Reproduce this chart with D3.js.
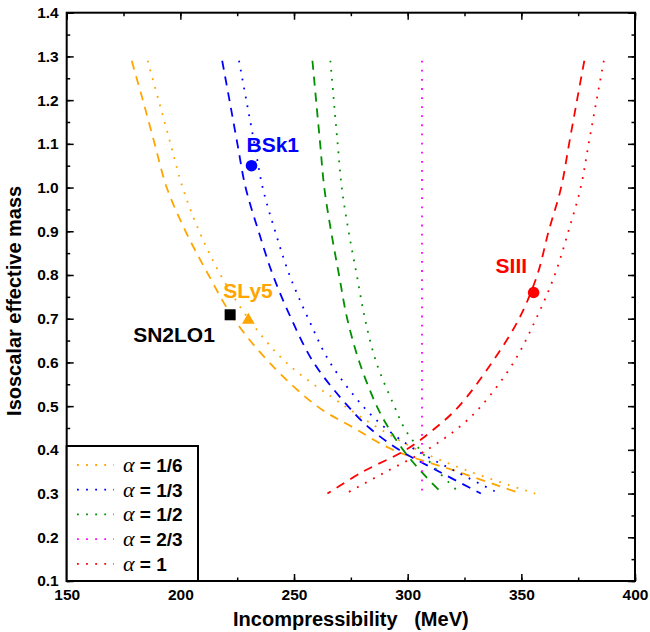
<!DOCTYPE html>
<html>
<head>
<meta charset="utf-8">
<script src="https://cdn.jsdelivr.net/npm/d3@7"></script>
<style>
  body { margin: 0; background: #fff; }
  text { font-family: "Liberation Sans", Arial, sans-serif; font-weight: bold; }
</style>
</head>
<body>
<svg id="chart" width="650" height="632"></svg>
<script>
const mGrid = [1.29, 1.2, 1.1, 1.0, 0.9, 0.8, 0.7, 0.6, 0.5, 0.45, 0.4, 0.35, 0.3];

// dotted curves (legend)
const kDot16 = [185.6, 190.4, 195.7, 201.0, 208.3, 217.7, 230.0, 246.5, 272.4, 287.1, 304.3, 327.5, 356.1];
const kDot13 = [225.8, 229.0, 232.6, 236.2, 241.7, 248.0, 256.3, 265.8, 280.3, 290.2, 303.5, 321.4, 340.3];
const kDot12 = [266.0, 267.5, 269.2, 271.0, 274.0, 277.6, 281.2, 286.2, 294.1, 298.5, 305.4, 313.5, 323.1];
const kDot23 = [306.3, 306.3, 306.3, 306.3, 306.3, 306.3, 306.3, 306.3, 306.3, 306.3, 306.3, 306.3, 306.3];
const kDot1  = [386.3, 383.1, 379.6, 376.1, 370.7, 364.7, 356.5, 346.6, 332.3, 322.2, 308.4, 290.5, 272.8];

// dashed curves
const kDash16 = [178.6, 183.5, 188.7, 194.0, 202.3, 212.4, 223.5, 239.1, 260.1, 276.4, 293.6, 322.0, 349.8];
const kDash13 = [218.4, 221.6, 225.1, 228.7, 234.4, 240.7, 248.8, 258.6, 273.7, 283.2, 296.2, 313.9, 332.2];
const kDash12 = [258.1, 259.7, 261.5, 263.3, 266.3, 269.8, 273.4, 278.8, 286.4, 291.6, 298.0, 306.0, 315.2];
const kDash1  = [377.7, 374.5, 371.0, 367.5, 362.0, 357.0, 349.0, 337.1, 322.6, 312.2, 299.2, 280.3, 264.7];

const alphaLabels = ["1/6", "1/3", "1/2", "2/3", "1"];

// Skyrme forces
const forceNames = ["BSk1", "SLy5", "SN2LO1", "SIII"];
const forceK = [231.3, 229.9, 221.9, 355.4];
const forceM = [1.05, 0.697, 0.709, 0.76];

const xTicks = [150, 200, 250, 300, 350, 400];
const yTicks = [0.1, 0.2, 0.3, 0.4, 0.5, 0.6, 0.7, 0.8, 0.9, 1.0, 1.1, 1.2, 1.3, 1.4];

const pLeft = 66.7, pRight = 635, pTop = 12.7, pBottom = 581;
const svg = d3.select("#chart");

const x = d3.scaleLinear().domain([150, 400]).range([pLeft, pRight]);
const y = d3.scaleLinear().domain([0.1, 1.4]).range([pBottom, pTop]);

const colors = ["#ffa500", "#0000ff", "#009000", "#ff00ff", "#ff0000"];

const line = d3.line()
  .x(d => x(d[0]))
  .y(d => y(d[1]))
  .curve(d3.curveCatmullRom);

const pairs = ks => ks.map((k, i) => [k, mGrid[i]]);

// dashed set
[kDash16, kDash13, kDash12, null, kDash1].forEach((ks, i) => {
  if (!ks) return;
  svg.append("path")
    .attr("d", line(pairs(ks)))
    .attr("fill", "none")
    .attr("stroke", colors[i])
    .attr("stroke-width", 1.8)
    .attr("stroke-dasharray", "9,7");
});

// dotted set
[kDot16, kDot13, kDot12, kDot23, kDot1].forEach((ks, i) => {
  svg.append("path")
    .attr("d", line(pairs(ks)))
    .attr("fill", "none")
    .attr("stroke", colors[i])
    .attr("stroke-width", 1.8)
    .attr("stroke-dasharray", "1.8,7.3");
});

// axes, ticks pointing inward
const xMinor = d3.range(150, 401, 25);
const yMinor = d3.range(0.1, 1.401, 0.05);

function ticksOn(axis, vals, size, fmt) {
  return axis.tickValues(vals).tickSizeInner(-size).tickSizeOuter(0).tickPadding(8).tickFormat(fmt);
}

svg.append("g").attr("transform", `translate(0,${pBottom})`)
  .call(ticksOn(d3.axisBottom(x), xMinor, 3.5, () => ""));
svg.append("g").attr("transform", `translate(0,${pBottom})`)
  .call(ticksOn(d3.axisBottom(x), xTicks, 7, d3.format("d")));
svg.append("g").attr("transform", `translate(0,${pTop})`)
  .call(ticksOn(d3.axisTop(x), xMinor, 3.5, () => ""));
svg.append("g").attr("transform", `translate(0,${pTop})`)
  .call(ticksOn(d3.axisTop(x), xTicks, 7, () => ""));
svg.append("g").attr("transform", `translate(${pLeft},0)`)
  .call(ticksOn(d3.axisLeft(y), yMinor, 3.5, () => ""));
svg.append("g").attr("transform", `translate(${pLeft},0)`)
  .call(ticksOn(d3.axisLeft(y), yTicks, 7, d3.format(".1f")));
svg.append("g").attr("transform", `translate(${pRight},0)`)
  .call(ticksOn(d3.axisRight(y), yMinor, 3.5, () => ""));
svg.append("g").attr("transform", `translate(${pRight},0)`)
  .call(ticksOn(d3.axisRight(y), yTicks, 7, () => ""));

svg.selectAll(".domain").remove();
svg.selectAll(".tick line").attr("stroke", "#000").attr("stroke-width", 1.5);
svg.selectAll(".tick text")
  .attr("font-family", "Liberation Sans, Arial, sans-serif")
  .attr("font-weight", "bold")
  .attr("font-size", 15.5)
  .attr("fill", "#000");

svg.append("rect")
  .attr("x", pLeft).attr("y", pTop)
  .attr("width", pRight - pLeft).attr("height", pBottom - pTop)
  .attr("fill", "none").attr("stroke", "#000").attr("stroke-width", 2);

// axis titles
svg.append("text")
  .attr("x", (pLeft + pRight) / 2).attr("y", 626)
  .attr("text-anchor", "middle").attr("font-size", 20)
  .attr("xml:space", "preserve")
  .text("Incompressibility   (MeV)");
svg.append("text")
  .attr("transform", `translate(21,${(pTop + pBottom) / 2 + 4}) rotate(-90)`)
  .attr("text-anchor", "middle").attr("font-size", 20)
  .text("Isoscalar effective mass");

// force markers
const markerColor = ["#0000ff", "#ffa500", "#000000", "#ff0000"];
const labelOffset = [[-5, -14], [-25, -22], [-97, 27], [-38, -19]];
forceNames.forEach((name, i) => {
  const cx = x(forceK[i]), cy = y(forceM[i]);
  if (name === "SN2LO1") {
    svg.append("rect").attr("x", cx - 5.5).attr("y", cy - 5.5)
      .attr("width", 11).attr("height", 11).attr("fill", markerColor[i]);
  } else if (name === "SLy5") {
    svg.append("path")
      .attr("d", d3.symbol(d3.symbolTriangle, 70)())
      .attr("transform", `translate(${cx},${cy})`)
      .attr("fill", markerColor[i]);
  } else {
    svg.append("circle").attr("cx", cx).attr("cy", cy).attr("r", 5.8)
      .attr("fill", markerColor[i]);
  }
  svg.append("text")
    .attr("x", cx + labelOffset[i][0]).attr("y", cy + labelOffset[i][1])
    .attr("font-size", 21).attr("fill", markerColor[i])
    .text(name);
});

// legend
const legend = svg.append("g");
legend.append("rect")
  .attr("x", pLeft).attr("y", 446)
  .attr("width", 198 - pLeft).attr("height", pBottom - 446)
  .attr("fill", "#fff").attr("stroke", "#000").attr("stroke-width", 2);
alphaLabels.forEach((lab, i) => {
  const ly = 465 + i * 24.7;
  legend.append("line")
    .attr("x1", 77).attr("x2", 114).attr("y1", ly).attr("y2", ly)
    .attr("stroke", colors[i]).attr("stroke-width", 1.8)
    .attr("stroke-dasharray", "1.8,7.3");
  const t = legend.append("text").attr("x", 123).attr("y", ly + 7).attr("font-size", 19);
  t.append("tspan")
    .attr("font-family", "Liberation Serif, Times New Roman, serif")
    .attr("font-style", "italic").attr("font-weight", "normal")
    .attr("font-size", 22)
    .text("α");
  t.append("tspan").text(" = " + lab);
});
</script>
</body>
</html>
